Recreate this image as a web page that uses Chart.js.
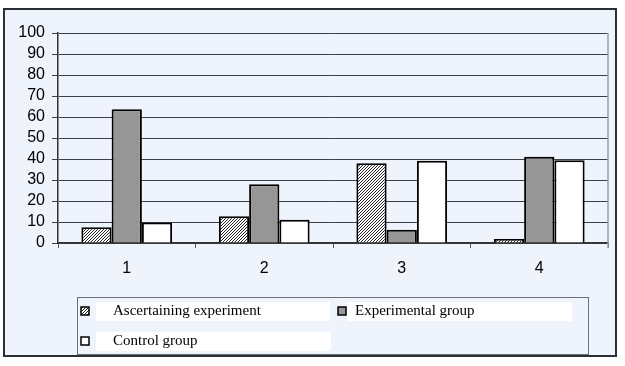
<!DOCTYPE html>
<html>
<head>
<meta charset="utf-8">
<script src="https://cdn.jsdelivr.net/npm/chart.js@4"></script>
<style>
  html, body { margin: 0; padding: 0; background: #fff; }
  #wrap { position: relative; width: 625px; height: 366px; background: #fff; }
  #frame { position: absolute; left: 3px; top: 8px; width: 614px; height: 349px;
           border: 2px solid #2b2f36; background: #eff3fb; box-sizing: border-box; }
  canvas { position: absolute; left: 0; top: 0; }
</style>
</head>
<body>
<div id="wrap">
  <div id="frame"></div>
  <canvas id="chart" width="625" height="366"></canvas>
</div>
<script>
// chart data
const categories = ["1", "2", "3", "4"];
const seriesNames = ["Ascertaining experiment", "Experimental group", "Control group"];
const ascertaining = [7.5, 12.7, 38, 1.9];
const experimental = [63.7, 28, 6.3, 41.1];
const control = [9.8, 11.1, 39.2, 39.4];
const yTicks = [0, 10, 20, 30, 40, 50, 60, 70, 80, 90, 100];

// diagonal hatch for the first series
function makeHatch() {
  const c = document.createElement("canvas");
  c.width = 3; c.height = 3;
  const g = c.getContext("2d");
  g.fillStyle = "#fff";
  g.fillRect(0, 0, 3, 3);
  g.fillStyle = "#222";
  g.fillRect(2, 0, 1, 1);
  g.fillRect(1, 1, 1, 1);
  g.fillRect(0, 2, 1, 1);
  return g.createPattern(c, "repeat");
}
const hatch = makeHatch();

// right border of the plot area
const rightEdge = {
  id: "rightEdge",
  afterDraw(chart) {
    const a = chart.chartArea, ctx = chart.ctx;
    ctx.save();
    ctx.strokeStyle = "#9a9ea6";
    ctx.lineWidth = 1.5;
    ctx.beginPath();
    ctx.moveTo(a.right, a.top);
    ctx.lineTo(a.right, a.bottom + 5);
    ctx.stroke();
    ctx.restore();
  }
};

// boxed legend under the plot, two columns
const boxLegend = {
  id: "boxLegend",
  afterDraw(chart) {
    const ctx = chart.ctx;
    const box = { x: 77.5, y: 297.5, w: 511, h: 57 };
    const items = [
      { sx: 81, sy: 307, bx: 96, by: 302, bw: 234, tx: 113, ty: 311 },
      { sx: 338, sy: 307, bx: 347, by: 302, bw: 225, tx: 355, ty: 311 },
      { sx: 81, sy: 337, bx: 96, by: 332, bw: 235, tx: 113, ty: 341 }
    ];
    ctx.save();
    ctx.strokeStyle = "#6b6f78";
    ctx.lineWidth = 1;
    ctx.strokeRect(box.x, box.y, box.w, box.h);
    chart.data.datasets.forEach((ds, i) => {
      const it = items[i];
      ctx.fillStyle = "#fff";
      ctx.fillRect(it.bx, it.by, it.bw, 19);
      ctx.fillStyle = ds.backgroundColor;
      ctx.fillRect(it.sx, it.sy, 8, 8);
      ctx.strokeStyle = "#000";
      ctx.lineWidth = 1.5;
      ctx.strokeRect(it.sx, it.sy, 8, 8);
      ctx.fillStyle = "#000";
      ctx.font = "15px 'Liberation Serif', 'DejaVu Serif', serif";
      ctx.textBaseline = "middle";
      ctx.textAlign = "left";
      ctx.fillText(ds.label, it.tx, it.ty);
    });
    ctx.restore();
  }
};

const ctx = document.getElementById("chart").getContext("2d");
new Chart(ctx, {
  type: "bar",
  data: {
    labels: categories,
    datasets: [
      { label: seriesNames[0], data: ascertaining, backgroundColor: hatch, borderColor: "#000", borderWidth: 2 },
      { label: seriesNames[1], data: experimental, backgroundColor: "#969696", borderColor: "#000", borderWidth: 2 },
      { label: seriesNames[2], data: control, backgroundColor: "#fff", borderColor: "#000", borderWidth: 2 }
    ]
  },
  options: {
    responsive: false,
    animation: false,
    layout: { padding: { left: 0, right: 17, top: 33, bottom: 0 } },
    plugins: { legend: { display: false }, tooltip: { enabled: false } },
    datasets: { bar: { categoryPercentage: 0.66, barPercentage: 1 } },
    scales: {
      x: {
        afterFit(s) { s.height = 123; },
        grid: { drawOnChartArea: false, offset: true, tickLength: 5, color: "#555" },
        border: { color: "#333", width: 1.5 },
        ticks: { padding: 11, color: "#000", font: { family: "Liberation Sans", size: 16 } }
      },
      y: {
        min: 0, max: 100,
        afterFit(s) { s.width = 58; },
        afterBuildTicks(s) { s.ticks = yTicks.map(v => ({ value: v })); },
        grid: { color: "#3c4048", lineWidth: 1, tickLength: 6 },
        border: { color: "#333", width: 1.5 },
        ticks: { autoSkip: false, padding: 7, color: "#000", font: { family: "Liberation Sans", size: 16 } }
      }
    }
  },
  plugins: [rightEdge, boxLegend]
});
</script>
</body>
</html>
